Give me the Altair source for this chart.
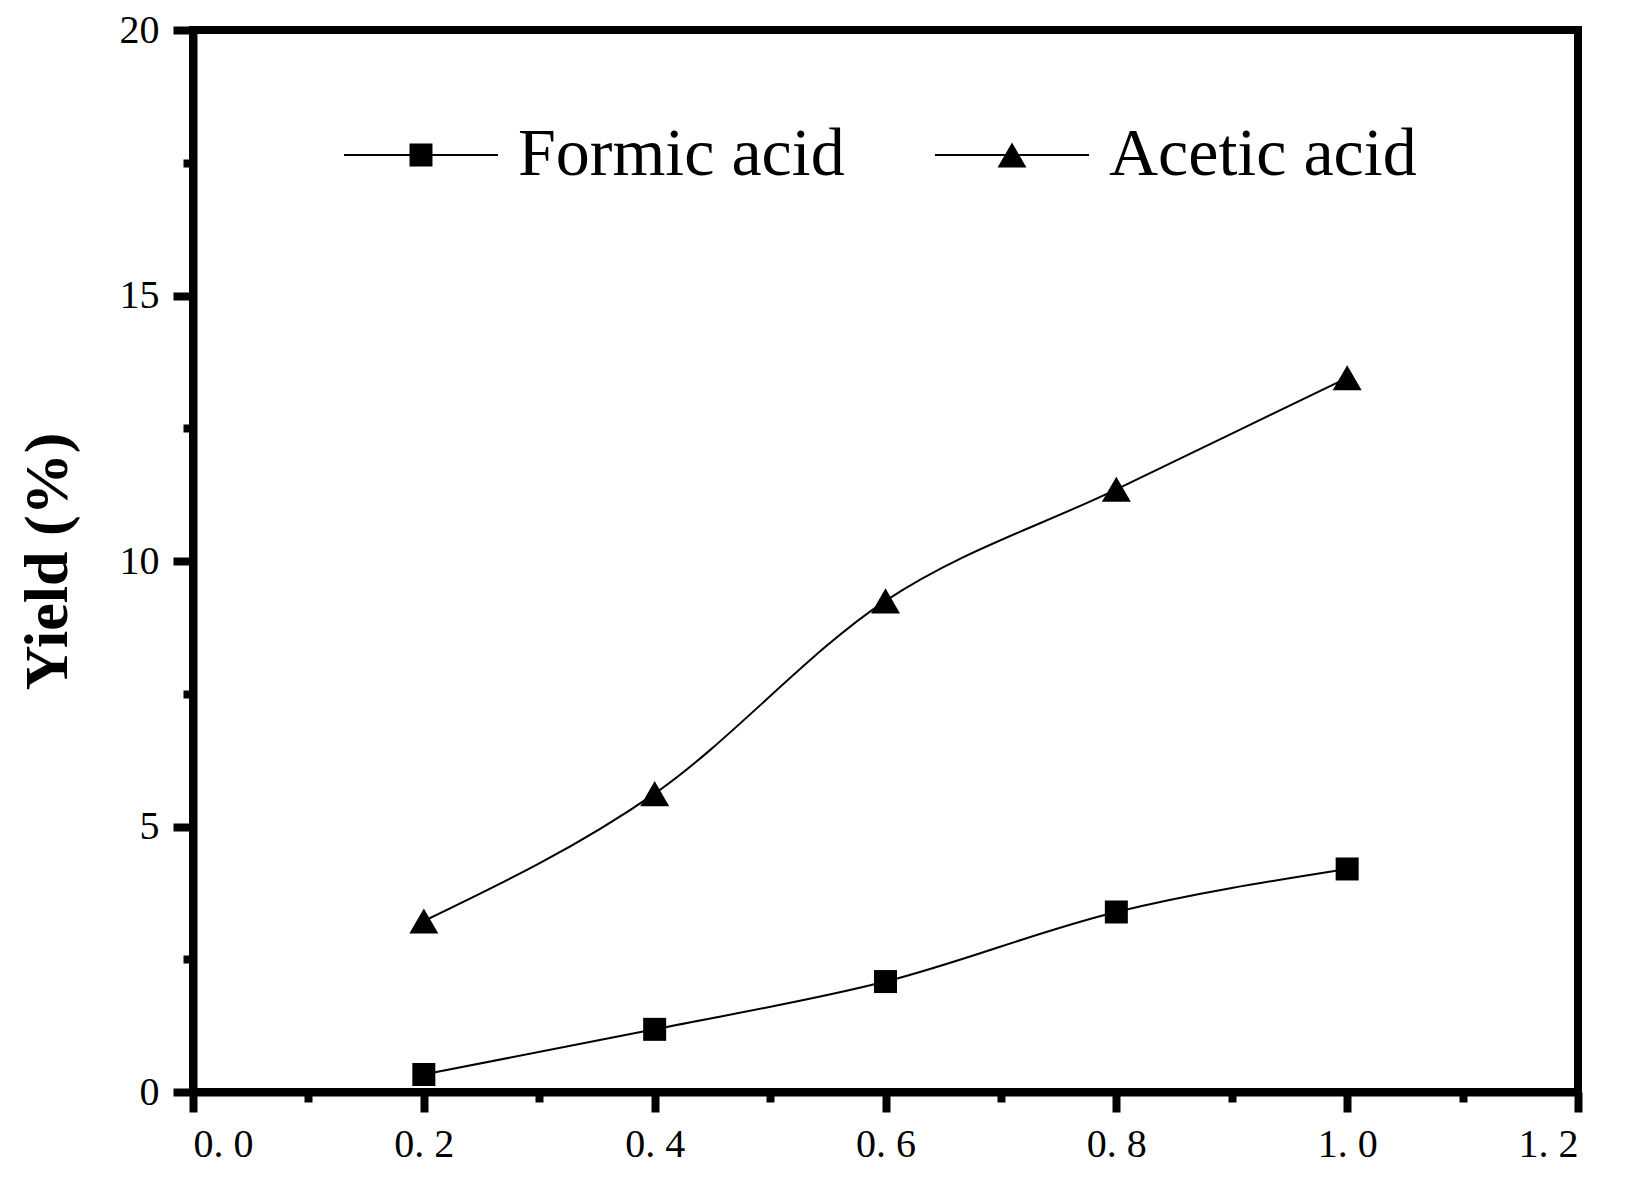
import altair as alt
import pandas as pd

# ---- data ----
x_vals = [0.2, 0.4, 0.6, 0.8, 1.0]
formic = [0.33, 1.18, 2.08, 3.39, 4.20]
acetic = [3.22, 5.62, 9.25, 11.35, 13.45]
names = ["Formic acid", "Acetic acid"]

x_major = [0.0, 0.2, 0.4, 0.6, 0.8, 1.0, 1.2]
x_minor = [0.1, 0.3, 0.5, 0.7, 0.9, 1.1]
y_major = [0, 5, 10, 15, 20]
y_minor = [2.5, 7.5, 12.5, 17.5]

rows = []
for name, vals in zip(names, [formic, acetic]):
    for xv, yv in zip(x_vals, vals):
        rows.append({"series": name, "x": xv, "y": yv})
df = pd.DataFrame(rows)

SERIF = "Liberation Serif"
xs = alt.Scale(domain=[0, 1.2], nice=False, zero=False)
ys = alt.Scale(domain=[0, 20], nice=False)

x_lab = "replace(format(datum.value, '.1f'), '.', '. ')"

base = alt.Chart(df)

lines = base.mark_line(interpolate="monotone", color="black", strokeWidth=2).encode(
    x=alt.X("x:Q", scale=xs, axis=alt.Axis(values=x_major, title=None, orient="bottom",
                                           labelExpr=x_lab, tickSize=20, labelPadding=12)),
    y=alt.Y("y:Q", scale=ys, axis=alt.Axis(values=y_major, title="Yield (%)", orient="left",
                                           tickSize=20, labelPadding=14, titlePadding=40)),
    detail="series:N",
)

points = base.mark_point(filled=True, color="black", opacity=1, strokeWidth=0).encode(
    x=alt.X("x:Q", scale=xs, axis=alt.Axis(values=x_minor, title=None, labels=False,
                                           domain=False, orient="bottom", tickSize=10)),
    y=alt.Y("y:Q", scale=ys, axis=alt.Axis(values=y_minor, title=None, labels=False,
                                           domain=False, orient="left", tickSize=10)),
    shape=alt.Shape("series:N", scale=alt.Scale(domain=names, range=["square", "triangle-up"]),
                    legend=None),
    size=alt.Size("series:N", scale=alt.Scale(domain=names, range=[529, 841]), legend=None),
)

legend_paths = [
    "M-1,-0.013H1V0.013H-1Z M-0.149,-0.149H0.149V0.149H-0.149Z",
    "M-1,-0.013H1V0.013H-1Z M0,-0.163L0.188,0.163H-0.188Z",
]

legend_layer = base.mark_point(filled=True, color="black", opacity=1, size=23716, strokeWidth=0).encode(
    x=alt.X("x:Q", scale=xs, axis=None),
    y=alt.Y("y:Q", scale=ys, axis=None),
    shape=alt.Shape("series:N", scale=alt.Scale(domain=names, range=legend_paths),
                    legend=alt.Legend(orient="none", legendX=151, legendY=48, direction="horizontal",
                                      columns=2, title=None, labelFont=SERIF, labelFontSize=68,
                                      labelColor="black", labelOffset=20, columnPadding=90,
                                      labelLimit=1000, symbolSize=23716, symbolFillColor="black",
                                      symbolStrokeWidth=0, symbolOpacity=1, padding=0)),
).transform_filter("datum.y < -1000")

chart = alt.layer(lines, points, legend_layer).resolve_scale(
    shape="independent", size="independent"
).resolve_axis(x="independent", y="independent").properties(
    width=1385, height=1062,
    background="white",
    autosize=alt.AutoSizeParams(type="none"),
    padding={"left": 185, "top": 22, "right": 42, "bottom": 87},
).configure_view(
    stroke="black", strokeWidth=8
).configure_axis(
    domainColor="black", domainWidth=8, tickColor="black", tickWidth=8,
    labelFont=SERIF, labelFontSize=40, labelColor="black", grid=False,
    titleFont=SERIF, titleFontSize=62, titleFontWeight="bold", titleColor="black",
)

chart.save("out.html", embed_options={"renderer": "svg", "actions": False})
